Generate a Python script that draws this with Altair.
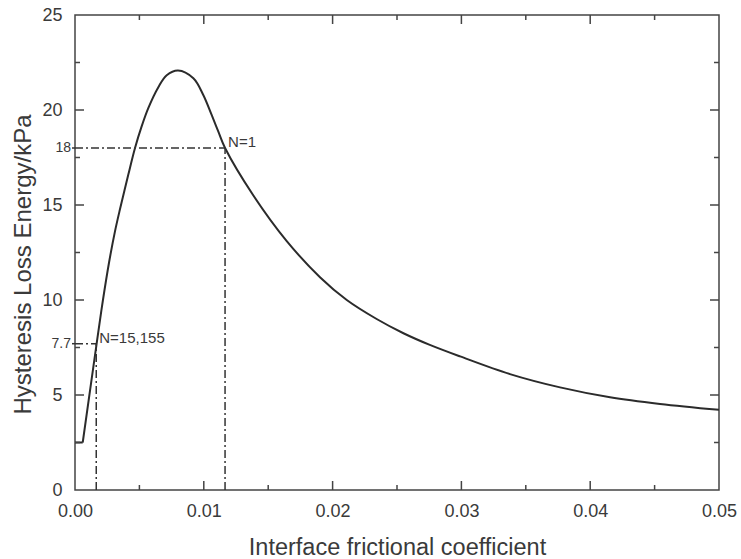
import altair as alt
import pandas as pd

# Curve values
curve_x = [0.0, 0.0006, 0.00168, 0.00217, 0.00265, 0.0031, 0.0035, 0.00414, 0.00466,
           0.00518, 0.00569, 0.00647, 0.00712, 0.0080, 0.00919, 0.00996, 0.01061,
           0.01113, 0.01165, 0.01385, 0.01644, 0.01902, 0.0211, 0.02342, 0.0255,
           0.0275, 0.0299, 0.03377, 0.03766, 0.04154, 0.04542, 0.05]
curve_y = [2.5, 2.5, 7.7, 10.0, 12.0, 13.6, 14.8, 16.6, 18.0,
           19.15, 20.1, 21.2, 21.83, 22.08, 21.67, 20.79, 19.74,
           18.86, 18.0, 15.5, 13.1, 11.2, 10.0, 9.0, 8.25,
           7.65, 7.03, 6.1, 5.4, 4.88, 4.53, 4.22]

# Reference (dash-dot) lines
ref_x = [0.00165, 0.01165]
ref_y = [7.7, 18.0]
ref_names = ["N=15,155", "N=1"]
ref_ylabels = ["7.7", "18"]

x_ticks = [0.0, 0.01, 0.02, 0.03, 0.04, 0.05]
x_major_inner = [0.01, 0.02, 0.03, 0.04]
x_minor = [0.005, 0.015, 0.025, 0.035, 0.045]
y_ticks = [0, 5, 10, 15, 20, 25]
y_major_inner = [5, 10, 15, 20]
y_minor = [2.5, 7.5, 12.5, 17.5, 22.5]

W, H = 644, 475
INK = "#3a3a3a"
FONT = "Liberation Sans"

curve = pd.DataFrame({"x": curve_x, "y": curve_y})
flat = curve.iloc[:2]
rest = curve.iloc[1:]
refs = pd.DataFrame({"x": ref_x, "y": ref_y, "x0": [0.0, 0.0], "y0": [0.0, 0.0],
                     "name": ref_names, "ylab": ref_ylabels})

xs = alt.Scale(domain=[0, 0.05], nice=False)
ys = alt.Scale(domain=[0, 25], nice=False)

xaxis = alt.Axis(values=x_ticks, format=".2f", tickSize=0, domain=False, grid=False,
                 labelFlush=False, labelPadding=12, labelFontSize=18, labelFont=FONT,
                 labelColor=INK, labelBaseline="top",
                 title="Interface frictional coefficient", titleFontSize=23.5,
                 titleFont=FONT, titleColor=INK, titleFontWeight="normal",
                 titleY=64, titleBaseline="alphabetic")
yaxis = alt.Axis(values=y_ticks, format="d", tickSize=0, domain=False, grid=False,
                 labelFlush=False, labelPadding=13, labelFontSize=18, labelFont=FONT,
                 labelColor=INK,
                 title="Hysteresis Loss Energy/kPa", titleFontSize=24,
                 titleFont=FONT, titleColor=INK, titleFontWeight="normal",
                 titleX=-45, titleY=249, titleAngle=-90, titleAlign="center",
                 titleBaseline="alphabetic")

line_flat = alt.Chart(flat).mark_line(color="#2b2b2b", strokeWidth=2).encode(
    x=alt.X("x:Q", scale=xs, axis=xaxis),
    y=alt.Y("y:Q", scale=ys, axis=yaxis),
)
line = alt.Chart(rest).mark_line(color="#2b2b2b", strokeWidth=2,
                                 interpolate="catmull-rom").encode(
    x=alt.X("x:Q", scale=xs),
    y=alt.Y("y:Q", scale=ys),
)

dash = [8, 3, 2, 3]
hrule = alt.Chart(refs).mark_rule(color="#333", strokeWidth=1.5, strokeDash=dash).encode(
    x=alt.X("x0:Q", scale=xs), x2="x:Q", y=alt.Y("y:Q", scale=ys))
vrule = alt.Chart(refs).mark_rule(color="#333", strokeWidth=1.5, strokeDash=dash).encode(
    x=alt.X("x:Q", scale=xs), y=alt.Y("y0:Q", scale=ys), y2="y:Q")

ylab = alt.Chart(refs).mark_text(align="right", baseline="middle", fontSize=14,
                                 font=FONT, color=INK).encode(
    x=alt.value(-4), y=alt.Y("y:Q", scale=ys), text="ylab:N")
ylab_dash = alt.Chart(refs).mark_rule(color="#333", strokeWidth=1.5).encode(
    x=alt.value(-3), x2=alt.value(0), y=alt.Y("y:Q", scale=ys))

names = alt.Chart(refs).mark_text(align="left", baseline="bottom", fontSize=15,
                                  font=FONT, color=INK, dx=3, dy=2).encode(
    x=alt.X("x:Q", scale=xs), y=alt.Y("y:Q", scale=ys), text="name:N")


def xtick(vals, length, top):
    df = pd.DataFrame({"v": vals})
    if top:
        yy, yy2 = alt.value(0), alt.value(length)
    else:
        yy, yy2 = alt.value(H), alt.value(H - length)
    return alt.Chart(df).mark_rule(color="#444", strokeWidth=1.5).encode(
        x=alt.X("v:Q", scale=xs), y=yy, y2=yy2)


def ytick(vals, length, right):
    df = pd.DataFrame({"v": vals})
    if right:
        xx, xx2 = alt.value(W), alt.value(W - length)
    else:
        xx, xx2 = alt.value(0), alt.value(length)
    return alt.Chart(df).mark_rule(color="#444", strokeWidth=1.5).encode(
        y=alt.Y("v:Q", scale=ys), x=xx, x2=xx2)


ticks = [xtick(x_major_inner, 9, False), xtick(x_minor, 5, False),
         xtick(x_major_inner, 9, True), xtick(x_minor, 5, True),
         ytick(y_major_inner, 9, False), ytick(y_minor, 5, False),
         ytick(y_major_inner, 9, True), ytick(y_minor, 5, True)]

chart = alt.layer(line_flat, line, hrule, vrule, ylab_dash, ylab, names, *ticks).properties(
    width=W, height=H,
    autosize=alt.AutoSizeParams(type="none"),
    padding={"left": 75, "top": 15, "right": 22, "bottom": 69},
    background="white",
).configure_view(stroke="#444", strokeWidth=1.5)

chart.save("out.html", embed_options={"renderer": "svg", "actions": False})
